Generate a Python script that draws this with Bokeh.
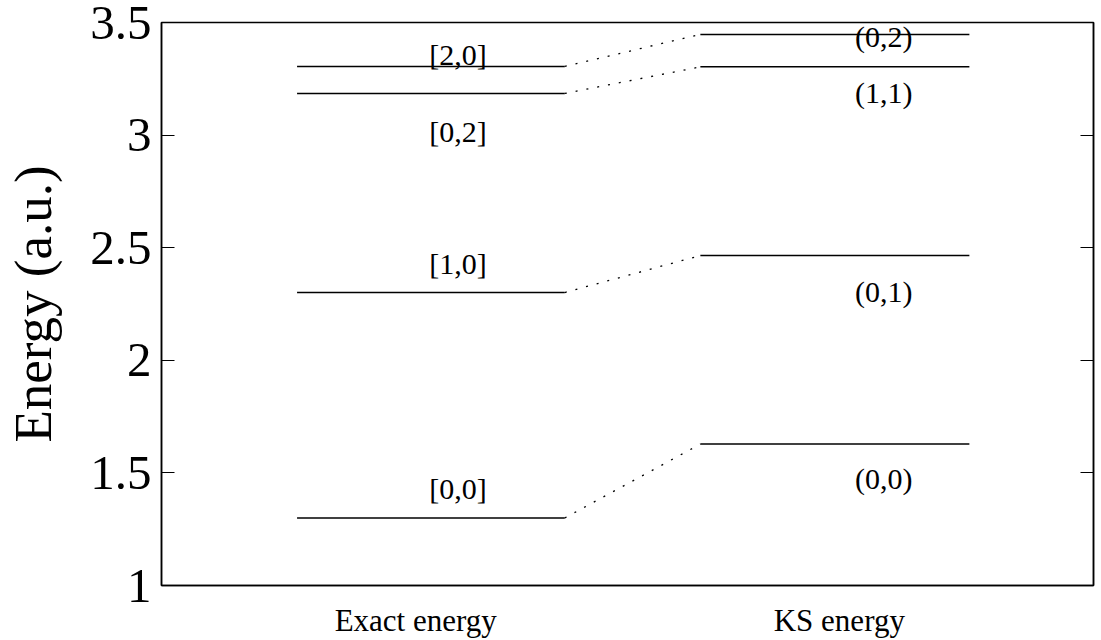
from bokeh.plotting import figure
from bokeh.models import Range1d, FixedTicker, LinearAxis, CustomJSTickFormatter, ColumnDataSource
from bokeh.core.properties import value
from bokeh.embed import file_html
from bokeh.resources import INLINE

# ---- data ----
categories = ["Exact energy", "KS energy"]
category_pos = [1, 2]

exact_labels = ["[0,0]", "[1,0]", "[0,2]", "[2,0]"]
exact_energy = [1.300, 2.301, 3.185, 3.305]

ks_labels = ["(0,0)", "(0,1)", "(1,1)", "(0,2)"]
ks_energy = [1.628, 2.465, 3.303, 3.447]

y_ticks = [1, 1.5, 2, 2.5, 3, 3.5]

# ---- layout / style constants ----
EX_X0, EX_X1, EX_LBL = 0.72, 1.352, 1.10
KS_X0, KS_X1, KS_LBL = 1.672, 2.307, 2.105
exact_lbl_off = [-29, -29, 38, -12]   # pixels, positive = down
ks_lbl_off = [34, 36, 26, 2]
FONT = "Liberation Serif"

p = figure(width=1101, height=640, x_range=Range1d(0.4, 2.6), y_range=Range1d(1, 3.5),
           output_backend="svg", toolbar_location=None,
           min_border_left=161, min_border_top=22, min_border_right=8, min_border_bottom=55)
p.background_fill_color = "white"
p.border_fill_color = "white"
p.outline_line_color = "black"
p.outline_line_width = 1.5
p.xgrid.visible = False
p.ygrid.visible = False

# y axis (left)
ya = p.yaxis[0]
ya.ticker = FixedTicker(ticks=y_ticks)
ya.formatter = CustomJSTickFormatter(code="return String(tick)")
ya.major_tick_in = 13
ya.major_tick_out = 0
ya.minor_tick_line_color = None
ya.axis_line_color = "black"
ya.axis_line_width = 1.5
ya.major_tick_line_color = "black"
ya.major_label_text_font = FONT
ya.major_label_text_font_size = "49px"
ya.major_label_text_color = "black"
ya.major_label_standoff = 10
ya.axis_label = "Energy (a.u.)"
ya.axis_label_text_font = FONT
ya.axis_label_text_font_size = "53px"
ya.axis_label_text_font_style = "normal"
ya.axis_label_text_color = "black"
ya.axis_label_standoff = 25

# right axis with inward ticks only
ra = LinearAxis(ticker=FixedTicker(ticks=y_ticks),
                formatter=CustomJSTickFormatter(code="return ''"),
                major_tick_in=13, major_tick_out=0, minor_tick_line_color=None,
                axis_line_color="black", axis_line_width=1.5, major_label_standoff=0)
p.add_layout(ra, "right")

# x axis
xa = p.xaxis[0]
xa.ticker = FixedTicker(ticks=category_pos)
xa.major_label_overrides = {pos: lab for pos, lab in zip(category_pos, categories)}
xa.major_tick_in = 0
xa.major_tick_out = 0
xa.minor_tick_line_color = None
xa.axis_line_color = "black"
xa.axis_line_width = 1.5
xa.major_label_text_font = FONT
xa.major_label_text_font_size = "31px"
xa.major_label_text_color = "black"
xa.major_label_standoff = 17

# levels
ex_src = ColumnDataSource(dict(x0=[EX_X0] * len(exact_energy), x1=[EX_X1] * len(exact_energy),
                               y=exact_energy, lx=[EX_LBL] * len(exact_energy),
                               lab=exact_labels, off=exact_lbl_off))
ks_src = ColumnDataSource(dict(x0=[KS_X0] * len(ks_energy), x1=[KS_X1] * len(ks_energy),
                               y=ks_energy, lx=[KS_LBL] * len(ks_energy),
                               lab=ks_labels, off=ks_lbl_off))
p.segment(x0="x0", y0="y", x1="x1", y1="y", source=ex_src, line_color="black", line_width=1.5)
p.segment(x0="x0", y0="y", x1="x1", y1="y", source=ks_src, line_color="black", line_width=1.5)

# dotted connectors
conn = ColumnDataSource(dict(x0=[EX_X1] * len(exact_energy), y0=exact_energy,
                             x1=[KS_X0] * len(ks_energy), y1=ks_energy))
p.segment(x0="x0", y0="y0", x1="x1", y1="y1", source=conn, line_color="black",
          line_width=1.3, line_dash="2 9")

# labels
for src in (ex_src, ks_src):
    p.text(x="lx", y="y", text="lab", y_offset="off", source=src,
           text_font=value(FONT), text_font_size="30px", text_color="black",
           text_align="center", text_baseline="middle")

open("out.html", "w").write(file_html(p, INLINE))
